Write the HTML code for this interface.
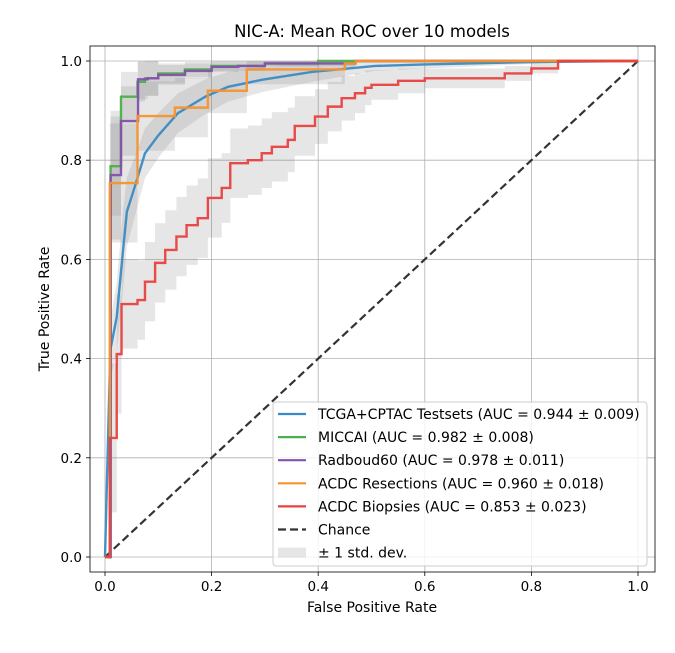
<!DOCTYPE html>
<html><head><meta charset="utf-8"><style>
body{margin:0;background:#fff;font-family:"Liberation Sans","DejaVu Sans",sans-serif}
svg text{font-family:"DejaVu Sans","Liberation Sans",sans-serif;fill:#000}
</style></head><body>
<svg id="c" width="675" height="648" viewBox="0 0 675 648"></svg>
<script>
const xTicks=[0,0.2,0.4,0.6,0.8,1.0];
const yTicks=[0,0.2,0.4,0.6,0.8,1.0];
const tickLabels=["0.0","0.2","0.4","0.6","0.8","1.0"];
const seriesNames=["TCGA+CPTAC Testsets (AUC = 0.944 ± 0.009)","MICCAI (AUC = 0.982 ± 0.008)","Radboud60 (AUC = 0.978 ± 0.011)","ACDC Resections (AUC = 0.960 ± 0.018)","ACDC Biopsies (AUC = 0.853 ± 0.023)"];
const seriesColors=["#3a8bc4","#4daf4a","#8451ad","#f7922e","#e8413f"];
const blueFpr=[0,0.01,0.022,0.034,0.041,0.056,0.075,0.1,0.137,0.188,0.231,0.294,0.388,0.507,0.6,0.8,1];
const blueTpr=[0,0.417,0.484,0.62,0.696,0.747,0.814,0.85,0.895,0.928,0.948,0.962,0.978,0.99,0.993,0.998,1];
const blueStd=[0,0.06,0.07,0.08,0.07,0.06,0.05,0.045,0.04,0.035,0.03,0.025,0.02,0.01,0.008,0.004,0];
const greenFpr=[0,0.0105,0.03,0.061,0.075,0.1,0.15,0.2,0.3,0.4,1];
const greenTpr=[0,0.788,0.928,0.958,0.965,0.975,0.983,0.99,0.995,1,1];
const greenStd=[0,0.1,0.05,0.04,0.035,0.02,0.015,0.01,0.006,0,0];
const purpleFpr=[0,0.0105,0.03,0.062,0.08,0.1,0.15,0.2,0.25,0.3,0.47,1];
const purpleTpr=[0,0.77,0.879,0.963,0.965,0.972,0.98,0.988,0.99,0.995,1,1];
const purpleStd=[0,0.13,0.07,0.04,0.035,0.02,0.015,0.01,0.008,0.005,0,0];
const orangeFpr=[0,0.009,0.061,0.131,0.193,0.266,0.45,0.47,1];
const orangeTpr=[0,0.754,0.889,0.906,0.94,0.983,0.995,1,1];
const orangeStd=[0,0.12,0.07,0.06,0.045,0.03,0.01,0,0];
const redFpr=[0,0.009,0.022,0.031,0.061,0.075,0.094,0.113,0.134,0.153,0.174,0.193,0.219,0.235,0.268,0.294,0.313,0.343,0.356,0.394,0.418,0.444,0.469,0.488,0.5,0.55,0.6,0.75,0.8,0.85,1];
const redTpr=[0,0.24,0.409,0.51,0.518,0.555,0.593,0.619,0.646,0.669,0.683,0.724,0.744,0.794,0.8,0.814,0.827,0.841,0.869,0.888,0.908,0.925,0.935,0.946,0.952,0.96,0.965,0.975,0.985,1,1];
const redStd=[0,0.15,0.12,0.09,0.08,0.08,0.08,0.08,0.08,0.08,0.08,0.08,0.07,0.07,0.07,0.07,0.07,0.065,0.06,0.055,0.05,0.045,0.04,0.035,0.03,0.025,0.02,0.015,0.01,0,0];

const svg=document.getElementById('c');
const NS='http://www.w3.org/2000/svg';
const X=v=>105+v*533, Y=v=>557-v*496;
function mk(t,a,p){const e=document.createElementNS(NS,t);for(const k in a)e.setAttribute(k,a[k]);(p||svg).appendChild(e);return e;}
const frame=mk('rect',{x:90,y:46,width:565,height:526,fill:'#fff',stroke:'none'});


xTicks.forEach((t,i)=>{
 const g=mk('line',{x1:X(t),x2:X(t),y1:46,y2:572,stroke:'#b0b0b0','stroke-width':0.8});
 
 
 mk('line',{x1:X(t),x2:X(t),y1:572,y2:576,stroke:'#000','stroke-width':0.8});
 const tx=mk('text',{x:X(t),y:591,'font-size':13.5,'text-anchor':'middle'});tx.textContent=tickLabels[i];
 
 
});
yTicks.forEach((t,i)=>{
 const g=mk('line',{x1:90,x2:655,y1:Y(t),y2:Y(t),stroke:'#b0b0b0','stroke-width':0.8});
 
 
 mk('line',{x1:86,x2:90,y1:Y(t),y2:Y(t),stroke:'#000','stroke-width':0.8});
 const tx=mk('text',{x:82,y:Y(t)+5,'font-size':13.5,'text-anchor':'end'});tx.textContent=tickLabels[i];
 
 
});
const all=[[blueFpr,blueTpr,blueStd,false],[greenFpr,greenTpr,greenStd,true],[purpleFpr,purpleTpr,purpleStd,true],[orangeFpr,orangeTpr,orangeStd,true],[redFpr,redTpr,redStd,true]];
function pts(f,v,step){let p=[];for(let i=0;i<f.length;i++){if(step&&i>0)p.push([X(f[i]),Y(v[i-1])]);p.push([X(f[i]),Y(v[i])]);}return p;}
all.forEach((s,k)=>{
 const [f,t,sd,st]=s;
 const up=t.map((v,i)=>Math.min(1,v+sd[i])), lo=t.map((v,i)=>Math.max(0,v-sd[i]));
 const a=pts(f,up,st), b=pts(f,lo,st).reverse();
 const b2=mk('polygon',{points:a.concat(b).map(p=>p.join(',')).join(' '),fill:'rgba(128,128,128,0.2)',stroke:'none'});
 
 
});
const ch=mk('line',{x1:X(0),y1:Y(0),x2:X(1),y2:Y(1),stroke:'#333','stroke-width':2.2,'stroke-dasharray':'8,4'});


all.forEach((s,k)=>{
 const [f,t,sd,st]=s;
 const l=mk('polyline',{points:pts(f,t,st).map(p=>p.join(',')).join(' '),fill:'none',stroke:seriesColors[k],'stroke-width':2.4,'stroke-opacity':0.95,'stroke-linejoin':'miter'});
 
 
});
mk('rect',{x:90,y:46,width:565,height:526,fill:'none',stroke:'#000','stroke-width':0.8});
let t=mk('text',{x:372,y:37,'font-size':16.5,'text-anchor':'middle'});t.textContent='NIC-A: Mean ROC over 10 models';

t=mk('text',{x:372,y:612,'font-size':14,'text-anchor':'middle'});t.textContent='False Positive Rate';

t=mk('text',{x:0,y:0,'font-size':14,'text-anchor':'middle',transform:'translate(49,309) rotate(-90)'});t.textContent='True Positive Rate';

const lg=mk('rect',{x:273,y:402,width:374,height:164,rx:3,fill:'rgba(255,255,255,0.8)',stroke:'#ccc','stroke-width':1});

const labels=seriesNames.concat(['Chance','± 1 std. dev.']);
labels.forEach((name,i)=>{
 const y=414+i*23.1;
 let m;
 if(i<5)m=mk('line',{x1:278,x2:306,y1:y,y2:y,stroke:seriesColors[i],'stroke-width':2.2});
 else if(i==5)m=mk('line',{x1:278,x2:306,y1:y,y2:y,stroke:'#333','stroke-width':2.2,'stroke-dasharray':'8,4'});
 else m=mk('rect',{x:278,y:y-5,width:28,height:10,fill:'rgba(128,128,128,0.2)'});
 
 const tx=mk('text',{x:318,y:y+5,'font-size':14});tx.textContent=name;
 
});
</script>
</body></html>
